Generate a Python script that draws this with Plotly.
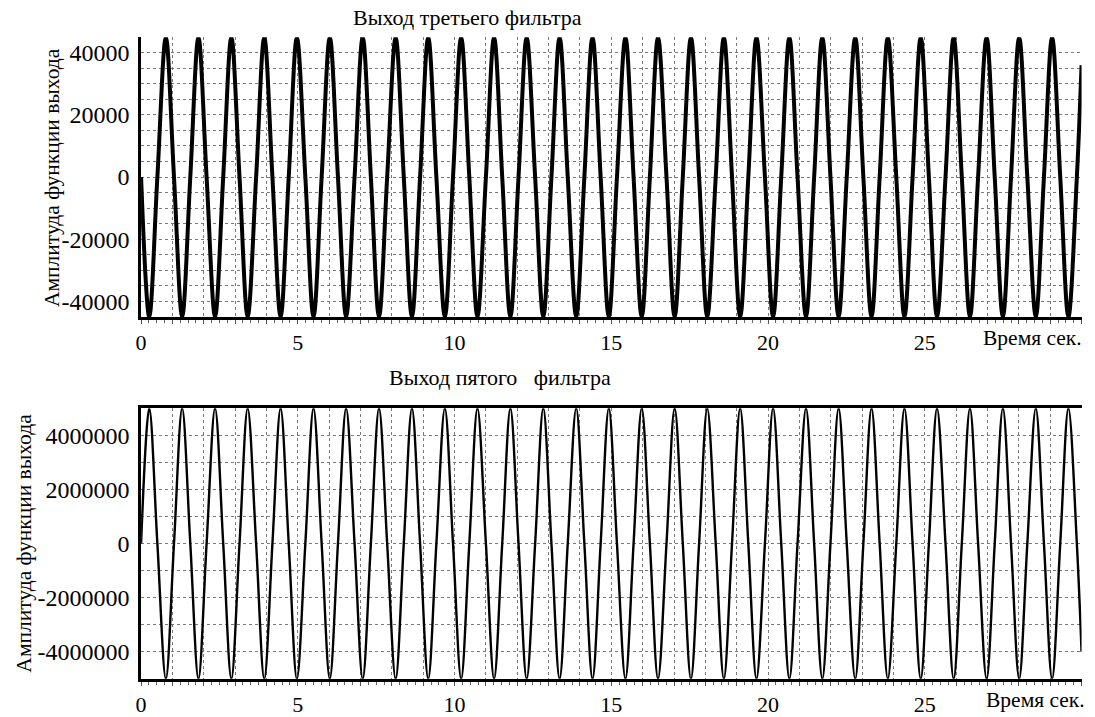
import plotly.graph_objects as go

# ---- data (extrema and zero crossings of each output) ----
t_points = [
    0.00, 0.26, 0.52, 0.79, 1.05, 1.31, 1.57, 1.83, 2.09, 2.36, 2.62, 2.88, 3.14, 3.40, 3.67, 3.93,
    4.19, 4.45, 4.71, 4.97, 5.24, 5.50, 5.76, 6.02, 6.28, 6.54, 6.81, 7.07, 7.33, 7.59, 7.85, 8.12,
    8.38, 8.64, 8.90, 9.16, 9.42, 9.69, 9.95, 10.21, 10.47, 10.73, 11.00, 11.26, 11.52, 11.78, 12.04, 12.30,
    12.57, 12.83, 13.09, 13.35, 13.61, 13.88, 14.14, 14.40, 14.66, 14.92, 15.18, 15.45, 15.71, 15.97, 16.23, 16.49,
    16.76, 17.02, 17.28, 17.54, 17.80, 18.06, 18.33, 18.59, 18.85, 19.11, 19.37, 19.63, 19.90, 20.16, 20.42, 20.68,
    20.94, 21.21, 21.47, 21.73, 21.99, 22.25, 22.51, 22.78, 23.04, 23.30, 23.56, 23.82, 24.09, 24.35, 24.61, 24.87,
    25.13, 25.39, 25.66, 25.92, 26.18, 26.44, 26.70, 26.97, 27.23, 27.49, 27.75, 28.01, 28.27, 28.54, 28.80, 29.06,
    29.32, 29.58, 29.85, 30.00,
]

y_third = [
    0, -45000, 0, 45000, 0, -45000, 0, 45000, 0, -45000, 0, 45000, 0, -45000, 0, 45000,
    0, -45000, 0, 45000, 0, -45000, 0, 45000, 0, -45000, 0, 45000, 0, -45000, 0, 45000,
    0, -45000, 0, 45000, 0, -45000, 0, 45000, 0, -45000, 0, 45000, 0, -45000, 0, 45000,
    0, -45000, 0, 45000, 0, -45000, 0, 45000, 0, -45000, 0, 45000, 0, -45000, 0, 45000,
    0, -45000, 0, 45000, 0, -45000, 0, 45000, 0, -45000, 0, 45000, 0, -45000, 0, 45000,
    0, -45000, 0, 45000, 0, -45000, 0, 45000, 0, -45000, 0, 45000, 0, -45000, 0, 45000,
    0, -45000, 0, 45000, 0, -45000, 0, 45000, 0, -45000, 0, 45000, 0, -45000, 0, 45000,
    0, -45000, 0, 36000,
]

y_fifth = [
    0, 5000000, 0, -5000000, 0, 5000000, 0, -5000000, 0, 5000000, 0, -5000000, 0, 5000000, 0, -5000000,
    0, 5000000, 0, -5000000, 0, 5000000, 0, -5000000, 0, 5000000, 0, -5000000, 0, 5000000, 0, -5000000,
    0, 5000000, 0, -5000000, 0, 5000000, 0, -5000000, 0, 5000000, 0, -5000000, 0, 5000000, 0, -5000000,
    0, 5000000, 0, -5000000, 0, 5000000, 0, -5000000, 0, 5000000, 0, -5000000, 0, 5000000, 0, -5000000,
    0, 5000000, 0, -5000000, 0, 5000000, 0, -5000000, 0, 5000000, 0, -5000000, 0, 5000000, 0, -5000000,
    0, 5000000, 0, -5000000, 0, 5000000, 0, -5000000, 0, 5000000, 0, -5000000, 0, 5000000, 0, -5000000,
    0, 5000000, 0, -5000000, 0, 5000000, 0, -5000000, 0, 5000000, 0, -5000000, 0, 5000000, 0, -5000000,
    0, 5000000, 0, -4000000,
]

x_label_vals = [0, 5, 10, 15, 20, 25]
y_third_ticks = [-40000, -20000, 0, 20000, 40000]
y_fifth_ticks = [-4000000, -2000000, 0, 2000000, 4000000]

title_third = "Выход третьего фильтра"
title_fifth = "Выход пятого\u00a0\u00a0 фильтра"
y_title = "Амплитуда функции выхода"
x_title = "Время сек."

# ---- figure ----
W, H = 1095, 717
FONT = "Liberation Serif"
GRID = "#7a7a7a"
TICKSIZE = 24

fig = go.Figure()
fig.add_trace(go.Scatter(x=t_points, y=y_third, mode="lines",
                         line=dict(color="black", width=4, shape="spline", smoothing=1.0),
                         xaxis="x", yaxis="y", showlegend=False, hoverinfo="skip"))
fig.add_trace(go.Scatter(x=t_points, y=y_fifth, mode="lines",
                         line=dict(color="black", width=2.4, shape="spline", smoothing=1.0),
                         xaxis="x2", yaxis="y2", showlegend=False, hoverinfo="skip"))

all_secs = list(range(0, 31))
sec_text = [str(v) if v in x_label_vals else "" for v in all_secs]


def xaxis_cfg(domain_anchor, mirror):
    return dict(
        domain=[136.7 / W, 1081.5 / W], anchor=domain_anchor, range=[0, 30],
        tickmode="array", tickvals=all_secs, ticktext=sec_text,
        ticks="outside", ticklen=4, tickwidth=1, tickcolor="#555",
        showgrid=True, gridcolor=GRID, griddash="3px,3px", gridwidth=1,
        showline=True, linecolor="black", linewidth=2.5, mirror=mirror,
        zeroline=False,
        minor=dict(dtick=0.25, ticks="outside", ticklen=3, tickcolor="#666", showgrid=False),
        tickfont=dict(family=FONT, size=TICKSIZE - 2, color="black"),
    )


def yaxis_cfg(domain, anchor, rng, tickvals, dminor):
    return dict(
        domain=domain, anchor=anchor, range=rng,
        tickmode="array", tickvals=tickvals, ticktext=[str(v) for v in tickvals],
        ticks="", showgrid=True, gridcolor=GRID, griddash="3px,3px", gridwidth=1,
        showline=True, linecolor="black", linewidth=2.5,
        zeroline=False,
        minor=dict(dtick=dminor, tick0=0, showgrid=True, gridcolor=GRID, griddash="3px,3px", gridwidth=1),
        tickfont=dict(family=FONT, size=TICKSIZE, color="black"),
        ticklabelstandoff=4,
    )


fig.update_layout(
    width=W, height=H, margin=dict(l=0, r=0, t=0, b=0),
    paper_bgcolor="white", plot_bgcolor="white",
    xaxis=xaxis_cfg("y", False),
    yaxis=yaxis_cfg([1 - 318.3 / H, 1 - 37.3 / H], "x", [-45000, 45000], y_third_ticks, 5000),
    xaxis2=xaxis_cfg("y2", True),
    yaxis2=yaxis_cfg([1 - 681.7 / H, 1 - 410 / H], "x2", [-5000000, 5000000], y_fifth_ticks, 1000000),
    font=dict(family=FONT, color="black"),
)

ann = [
    dict(text=title_third, x=465 / W, y=1 - 18 / H, size=22, xanchor="center", angle=0),
    dict(text=title_fifth, x=497 / W, y=1 - 379 / H, size=22, xanchor="center", angle=0),
    dict(text=x_title, x=1084 / W, y=1 - 339 / H, size=21.5, xanchor="right", angle=0),
    dict(text=x_title, x=1087 / W, y=1 - 703 / H, size=21.5, xanchor="right", angle=0),
    dict(text=y_title, x=47 / W, y=1 - 178 / H, size=21.5, xanchor="center", angle=-90),
    dict(text=y_title, x=19 / W, y=1 - 545 / H, size=21.5, xanchor="center", angle=-90),
]
for a in ann:
    fig.add_annotation(text=a["text"], x=a["x"], y=a["y"], xref="paper", yref="paper",
                       xanchor=a["xanchor"], yanchor="middle", textangle=a["angle"],
                       showarrow=False, font=dict(family=FONT, size=a["size"], color="black"))

fig.write_html("out.html", config={"displayModeBar": False},
               post_script="document.body.style.margin='0';")
